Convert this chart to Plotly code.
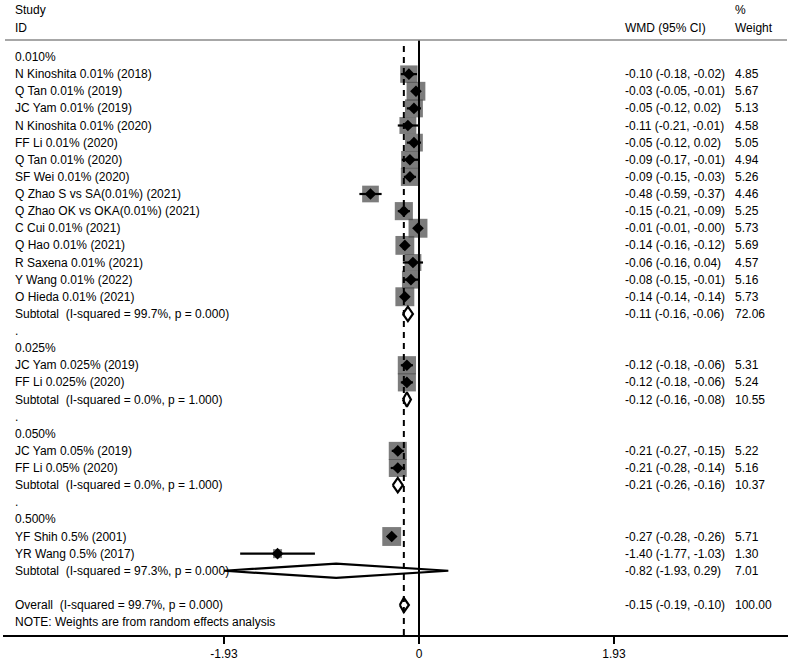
import plotly.graph_objects as go

# ---------------- data ----------------
group_names = ["0.010%", "0.025%", "0.050%", "0.500%"]

g1_labels = ["N Kinoshita 0.01% (2018)", "Q Tan 0.01% (2019)", "JC Yam 0.01% (2019)",
             "N Kinoshita 0.01% (2020)", "FF Li 0.01% (2020)", "Q Tan 0.01% (2020)",
             "SF Wei 0.01% (2020)", "Q Zhao S vs SA(0.01%) (2021)",
             "Q Zhao OK vs OKA(0.01%) (2021)", "C Cui 0.01% (2021)", "Q Hao 0.01% (2021)",
             "R Saxena 0.01% (2021)", "Y Wang 0.01% (2022)", "O Hieda 0.01% (2021)"]
g1_est = [-0.10, -0.03, -0.05, -0.11, -0.05, -0.09, -0.09, -0.48, -0.15, -0.01, -0.14, -0.06, -0.08, -0.14]
g1_lo = [-0.18, -0.05, -0.12, -0.21, -0.12, -0.17, -0.15, -0.59, -0.21, -0.01, -0.16, -0.16, -0.15, -0.14]
g1_hi = [-0.02, -0.01, 0.02, -0.01, 0.02, -0.01, -0.03, -0.37, -0.09, -0.001, -0.12, 0.04, -0.01, -0.14]
g1_w = [4.85, 5.67, 5.13, 4.58, 5.05, 4.94, 5.26, 4.46, 5.25, 5.73, 5.69, 4.57, 5.16, 5.73]

g2_labels = ["JC Yam 0.025% (2019)", "FF Li 0.025% (2020)"]
g2_est = [-0.12, -0.12]
g2_lo = [-0.18, -0.18]
g2_hi = [-0.06, -0.06]
g2_w = [5.31, 5.24]

g3_labels = ["JC Yam 0.05% (2019)", "FF Li 0.05% (2020)"]
g3_est = [-0.21, -0.21]
g3_lo = [-0.27, -0.28]
g3_hi = [-0.15, -0.14]
g3_w = [5.22, 5.16]

g4_labels = ["YF Shih 0.5% (2001)", "YR Wang 0.5% (2017)"]
g4_est = [-0.27, -1.40]
g4_lo = [-0.28, -1.77]
g4_hi = [-0.26, -1.03]
g4_w = [5.71, 1.30]

sub_labels = ["Subtotal  (I-squared = 99.7%, p = 0.000)",
              "Subtotal  (I-squared = 0.0%, p = 1.000)",
              "Subtotal  (I-squared = 0.0%, p = 1.000)",
              "Subtotal  (I-squared = 97.3%, p = 0.000)"]
sub_est = [-0.11, -0.12, -0.21, -0.82]
sub_lo = [-0.16, -0.16, -0.26, -1.93]
sub_hi = [-0.06, -0.08, -0.16, 0.29]
sub_w = [72.06, 10.55, 10.37, 7.01]

overall_label = "Overall  (I-squared = 99.7%, p = 0.000)"
overall_est, overall_lo, overall_hi, overall_w = -0.15, -0.19, -0.10, 100.00

note_text = "NOTE: Weights are from random effects analysis"
tick_vals = [-1.93, 0, 1.93]
tick_text = ["-1.93", "0", "1.93"]

groups = [(g1_labels, g1_est, g1_lo, g1_hi, g1_w),
          (g2_labels, g2_est, g2_lo, g2_hi, g2_w),
          (g3_labels, g3_est, g3_lo, g3_hi, g3_w),
          (g4_labels, g4_est, g4_lo, g4_hi, g4_w)]

# ---------------- layout of rows ----------------
FONT = "Liberation Sans, Arial, sans-serif"
rows_text = []   # (row, label, ci_text, weight_text)
stud_r, stud_e, stud_l, stud_h, stud_w = [], [], [], [], []
diamonds = []    # (row, est, lo, hi)

def f2(v):
    s = "%.2f" % v
    if v < 0 and not s.startswith("-"):
        s = "-" + s
    return s

def fmt(e, l, h):
    return "%s (%s, %s)" % (f2(e), f2(l), f2(h))

r = 0
for gi, (labs, es, ls, hs, ws) in enumerate(groups):
    if gi > 0:
        rows_text.append((r, ".", "", ""))
        r += 1
    rows_text.append((r, group_names[gi], "", ""))
    r += 1
    for lab, e, l, h, w in zip(labs, es, ls, hs, ws):
        rows_text.append((r, lab, fmt(e, l, h), "%.2f" % w))
        stud_r.append(r); stud_e.append(e); stud_l.append(l); stud_h.append(h); stud_w.append(w)
        r += 1
    rows_text.append((r, sub_labels[gi], fmt(sub_est[gi], sub_lo[gi], sub_hi[gi]), "%.2f" % sub_w[gi]))
    diamonds.append((r, sub_est[gi], sub_lo[gi], sub_hi[gi]))
    r += 1
r += 1
rows_text.append((r, overall_label, fmt(overall_est, overall_lo, overall_hi), "%.2f" % overall_w))
diamonds.append((r, overall_est, overall_lo, overall_hi))
r += 1
rows_text.append((r, note_text, "", ""))

# ---------------- geometry ----------------
W, H = 793, 668
PXU = 195 / 1.93            # pixels per data unit
X0_PAGE = 419               # page x of value 0
ROW0_PAGE, ROW_H = 57, 17.125
AXIS_PAGE_Y = 636
AXIS_ROW = (AXIS_PAGE_Y - ROW0_PAGE) / ROW_H

def row_of(page_y):
    return (page_y - ROW0_PAGE) / ROW_H

fig = go.Figure()

# squares (area proportional to weight)
fig.add_trace(go.Scatter(
    x=stud_e, y=stud_r, mode="markers",
    marker=dict(symbol="square", size=[7.9 * (w ** 0.5) for w in stud_w],
                color="#454545", line=dict(width=0)),
    hoverinfo="skip", showlegend=False))

# CI lines
cx, cy = [], []
for rr, l, h in zip(stud_r, stud_l, stud_h):
    cx += [l, h, None]
    cy += [rr, rr, None]
fig.add_trace(go.Scatter(x=cx, y=cy, mode="lines", line=dict(color="black", width=2.2),
                         hoverinfo="skip", showlegend=False))

# point estimates
fig.add_trace(go.Scatter(x=stud_e, y=stud_r, mode="markers",
                         marker=dict(symbol="diamond", size=9, color="black"),
                         hoverinfo="skip", showlegend=False))

# pooled diamonds
DH = 0.42
for rr, e, l, h in diamonds:
    fig.add_trace(go.Scatter(
        x=[l, e, h, e, l], y=[rr, rr - DH, rr, rr + DH, rr],
        mode="lines", fill="toself", fillcolor="white",
        line=dict(color="black", width=2.2), hoverinfo="skip", showlegend=False))

# vertical lines: null (solid) and overall (dashed)
fig.add_shape(type="line", xref="x", yref="y", x0=0, x1=0, y0=row_of(40), y1=AXIS_ROW,
              line=dict(color="black", width=2))
fig.add_shape(type="line", xref="x", yref="y", x0=overall_est, x1=overall_est,
              y0=row_of(46), y1=AXIS_ROW, line=dict(color="black", width=2, dash="6px,5px"))
# header separator
fig.add_shape(type="line", xref="paper", yref="y", x0=5 / W, x1=787 / W,
              y0=row_of(40), y1=row_of(40), line=dict(color="#8a8a8a", width=1.5))

# text
COLX = [13 / W, 623 / W, 733 / W]
def ann(x, y, t):
    fig.add_annotation(x=x, y=y, xref="paper", yref="y", text=t.replace("  ", "\u00a0\u00a0"),
                       showarrow=False, xanchor="left", yanchor="middle",
                       font=dict(family=FONT, size=12, color="black"))

ann(COLX[0], row_of(10), "Study")
ann(COLX[0], row_of(28), "ID")
ann(COLX[1], row_of(28), "WMD (95% CI)")
ann(COLX[2], row_of(10), "%")
ann(COLX[2], row_of(28), "Weight")
for rr, lab, ci, wt in rows_text:
    ann(COLX[0], rr, lab)
    if ci:
        ann(COLX[1], rr, ci)
    if wt:
        ann(COLX[2], rr, wt)

fig.update_layout(
    width=W, height=H, margin=dict(l=0, r=0, t=0, b=0),
    paper_bgcolor="white", plot_bgcolor="white",
    xaxis=dict(domain=[3 / W, 788 / W],
               range=[(3 - X0_PAGE) / PXU, (788 - X0_PAGE) / PXU],
               tickvals=tick_vals, ticktext=tick_text, ticks="outside", ticklen=7,
               tickwidth=2, tickcolor="black", showline=True, linewidth=2, linecolor="black",
               showgrid=False, zeroline=False, anchor="free",
               position=1 - AXIS_PAGE_Y / H,
               tickfont=dict(family=FONT, size=12, color="black")),
    yaxis=dict(range=[row_of(H), row_of(0)], visible=False,
               showgrid=False, zeroline=False),
)

fig.write_html("out.html",
               config={"displayModeBar": False},
               post_script="document.body.style.margin='0';document.body.style.overflow='hidden';")
